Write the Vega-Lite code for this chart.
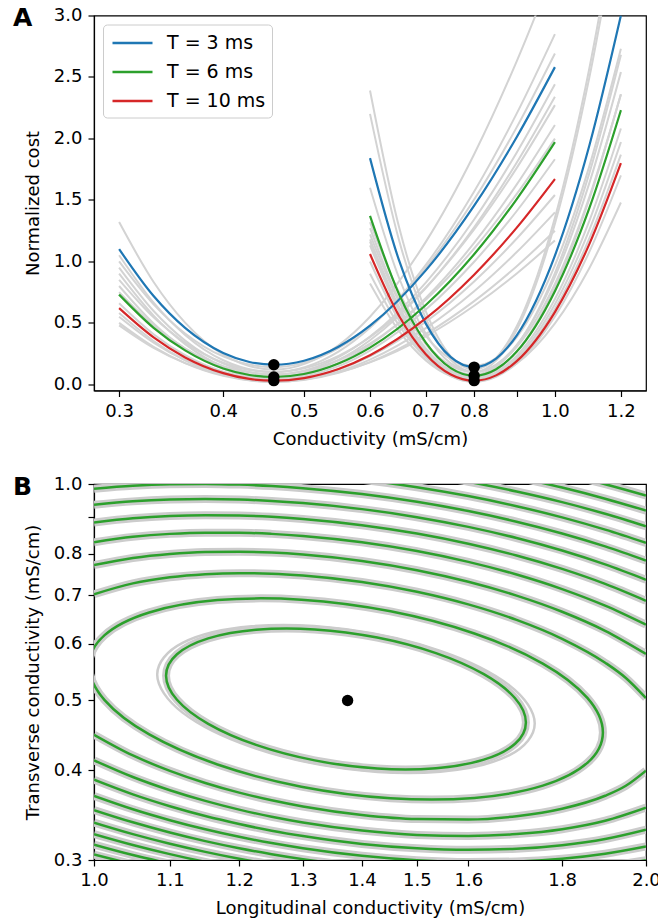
{
"$schema": "https://vega.github.io/schema/vega-lite/v6.json",
"background": "white",
"padding": {"left": 12, "top": 4.5, "right": 0, "bottom": 4},
"spacing": 24.5,
"config": {
 "font": "DejaVu Sans",
 "view": {"stroke": "black", "strokeWidth": 1.2},
 "axis": {"labelFont": "DejaVu Sans", "titleFont": "DejaVu Sans", "labelFontSize": 18, "titleFontSize": 18, "titleFontWeight": "normal", "labelColor": "black", "titleColor": "black", "domainColor": "black", "tickColor": "black", "tickSize": 6, "tickWidth": 1.2, "domainWidth": 1.2, "grid": false, "labelFlush": false, "labelOverlap": false},
 "axisX": {"labelPadding": 5.5, "titlePadding": 10},
 "axisY": {"labelPadding": 6, "titlePadding": 11},
 "legend": {"orient": "top-left", "offset": 9, "symbolType": "M-0.818,0H2.818", "symbolSize": 484, "symbolStrokeWidth": 2.5, "labelFontSize": 19, "labelFont": "DejaVu Sans", "labelColor": "black", "fillColor": "white", "strokeColor": "#cccccc", "padding": 6, "cornerRadius": 4, "rowPadding": 6, "labelOffset": 33}
},
"datasets": {
"greyA": [
{"s":"L1","x":0.3,"y":1.32},{"s":"L1","x":0.33,"y":0.833},{"s":"L1","x":0.36,"y":0.502},{"s":"L1","x":0.4,"y":0.241},{"s":"L1","x":0.46,"y":0.12},{"s":"L1","x":0.55,"y":0.318},{"s":"L1","x":0.6,"y":0.55},{"s":"L1","x":0.7,"y":1.159},{"s":"L1","x":0.8,"y":1.872},{"s":"L1","x":0.9,"y":2.629},{"s":"L1","x":1.0,"y":3.399},
{"s":"L2","x":0.3,"y":1.05},{"s":"L2","x":0.33,"y":0.664},{"s":"L2","x":0.36,"y":0.402},{"s":"L2","x":0.4,"y":0.196},{"s":"L2","x":0.46,"y":0.1},{"s":"L2","x":0.55,"y":0.266},{"s":"L2","x":0.6,"y":0.46},{"s":"L2","x":0.7,"y":0.971},{"s":"L2","x":0.8,"y":1.569},{"s":"L2","x":0.9,"y":2.204},{"s":"L2","x":1.0,"y":2.849},
{"s":"L3","x":0.3,"y":1.0},{"s":"L3","x":0.33,"y":0.651},{"s":"L3","x":0.36,"y":0.414},{"s":"L3","x":0.4,"y":0.227},{"s":"L3","x":0.46,"y":0.14},{"s":"L3","x":0.55,"y":0.294},{"s":"L3","x":0.6,"y":0.474},{"s":"L3","x":0.7,"y":0.948},{"s":"L3","x":0.8,"y":1.503},{"s":"L3","x":0.9,"y":2.092},{"s":"L3","x":1.0,"y":2.691},
{"s":"L4","x":0.3,"y":0.95},{"s":"L4","x":0.33,"y":0.597},{"s":"L4","x":0.36,"y":0.357},{"s":"L4","x":0.4,"y":0.168},{"s":"L4","x":0.46,"y":0.08},{"s":"L4","x":0.55,"y":0.222},{"s":"L4","x":0.6,"y":0.389},{"s":"L4","x":0.7,"y":0.828},{"s":"L4","x":0.8,"y":1.341},{"s":"L4","x":0.9,"y":1.886},{"s":"L4","x":1.0,"y":2.44},
{"s":"L5","x":0.3,"y":0.9},{"s":"L5","x":0.33,"y":0.559},{"s":"L5","x":0.36,"y":0.327},{"s":"L5","x":0.4,"y":0.145},{"s":"L5","x":0.46,"y":0.06},{"s":"L5","x":0.55,"y":0.198},{"s":"L5","x":0.6,"y":0.359},{"s":"L5","x":0.7,"y":0.783},{"s":"L5","x":0.8,"y":1.278},{"s":"L5","x":0.9,"y":1.805},{"s":"L5","x":1.0,"y":2.34},
{"s":"L6","x":0.3,"y":0.85},{"s":"L6","x":0.33,"y":0.545},{"s":"L6","x":0.36,"y":0.339},{"s":"L6","x":0.4,"y":0.176},{"s":"L6","x":0.46,"y":0.1},{"s":"L6","x":0.55,"y":0.231},{"s":"L6","x":0.6,"y":0.384},{"s":"L6","x":0.7,"y":0.788},{"s":"L6","x":0.8,"y":1.26},{"s":"L6","x":0.9,"y":1.761},{"s":"L6","x":1.0,"y":2.271},
{"s":"L7","x":0.3,"y":0.8},{"s":"L7","x":0.33,"y":0.495},{"s":"L7","x":0.36,"y":0.289},{"s":"L7","x":0.4,"y":0.126},{"s":"L7","x":0.46,"y":0.05},{"s":"L7","x":0.55,"y":0.174},{"s":"L7","x":0.6,"y":0.32},{"s":"L7","x":0.7,"y":0.703},{"s":"L7","x":0.8,"y":1.15},{"s":"L7","x":0.9,"y":1.626},{"s":"L7","x":1.0,"y":2.109},
{"s":"L8","x":0.3,"y":0.66},{"s":"L8","x":0.33,"y":0.408},{"s":"L8","x":0.36,"y":0.237},{"s":"L8","x":0.4,"y":0.103},{"s":"L8","x":0.46,"y":0.04},{"s":"L8","x":0.55,"y":0.148},{"s":"L8","x":0.6,"y":0.275},{"s":"L8","x":0.7,"y":0.608},{"s":"L8","x":0.8,"y":0.997},{"s":"L8","x":0.9,"y":1.41},{"s":"L8","x":1.0,"y":1.831},
{"s":"L9","x":0.3,"y":0.55},{"s":"L9","x":0.33,"y":0.339},{"s":"L9","x":0.36,"y":0.195},{"s":"L9","x":0.4,"y":0.083},{"s":"L9","x":0.46,"y":0.03},{"s":"L9","x":0.55,"y":0.121},{"s":"L9","x":0.6,"y":0.228},{"s":"L9","x":0.7,"y":0.509},{"s":"L9","x":0.8,"y":0.837},{"s":"L9","x":0.9,"y":1.186},{"s":"L9","x":1.0,"y":1.54},
{"s":"L10","x":0.3,"y":0.5},{"s":"L10","x":0.33,"y":0.305},{"s":"L10","x":0.36,"y":0.173},{"s":"L10","x":0.4,"y":0.069},{"s":"L10","x":0.46,"y":0.02},{"s":"L10","x":0.55,"y":0.103},{"s":"L10","x":0.6,"y":0.201},{"s":"L10","x":0.7,"y":0.457},{"s":"L10","x":0.8,"y":0.757},{"s":"L10","x":0.9,"y":1.076},{"s":"L10","x":1.0,"y":1.399},
{"s":"L11","x":0.3,"y":0.48},{"s":"L11","x":0.33,"y":0.297},{"s":"L11","x":0.36,"y":0.173},{"s":"L11","x":0.4,"y":0.076},{"s":"L11","x":0.46,"y":0.03},{"s":"L11","x":0.55,"y":0.099},{"s":"L11","x":0.6,"y":0.179},{"s":"L11","x":0.7,"y":0.391},{"s":"L11","x":0.8,"y":0.639},{"s":"L11","x":0.9,"y":0.902},{"s":"L11","x":1.0,"y":1.17},
{"s":"L12","x":0.3,"y":0.75},{"s":"L12","x":0.33,"y":0.478},{"s":"L12","x":0.36,"y":0.293},{"s":"L12","x":0.4,"y":0.148},{"s":"L12","x":0.46,"y":0.08},{"s":"L12","x":0.55,"y":0.196},{"s":"L12","x":0.6,"y":0.331},{"s":"L12","x":0.7,"y":0.688},{"s":"L12","x":0.8,"y":1.105},{"s":"L12","x":0.9,"y":1.549},{"s":"L12","x":1.0,"y":1.999},
{"s":"L13","x":0.3,"y":0.58},{"s":"L13","x":0.33,"y":0.353},{"s":"L13","x":0.36,"y":0.198},{"s":"L13","x":0.4,"y":0.077},{"s":"L13","x":0.46,"y":0.02},{"s":"L13","x":0.55,"y":0.094},{"s":"L13","x":0.6,"y":0.181},{"s":"L13","x":0.7,"y":0.41},{"s":"L13","x":0.8,"y":0.677},{"s":"L13","x":0.9,"y":0.961},{"s":"L13","x":1.0,"y":1.249},
{"s":"R1","x":0.6,"y":2.39},{"s":"R1","x":0.65,"y":1.281},{"s":"R1","x":0.7,"y":0.593},{"s":"R1","x":0.75,"y":0.228},{"s":"R1","x":0.8,"y":0.12},{"s":"R1","x":0.85,"y":0.215},{"s":"R1","x":0.9,"y":0.472},{"s":"R1","x":1.0,"y":1.354},{"s":"R1","x":1.1,"y":2.573},{"s":"R1","x":1.2,"y":4.01},
{"s":"R2","x":0.6,"y":2.2},{"s":"R2","x":0.65,"y":1.174},{"s":"R2","x":0.7,"y":0.537},{"s":"R2","x":0.75,"y":0.2},{"s":"R2","x":0.8,"y":0.1},{"s":"R2","x":0.85,"y":0.193},{"s":"R2","x":0.9,"y":0.444},{"s":"R2","x":1.0,"y":1.306},{"s":"R2","x":1.1,"y":2.499},{"s":"R2","x":1.2,"y":3.904},
{"s":"R3","x":0.6,"y":1.32},{"s":"R3","x":0.65,"y":0.749},{"s":"R3","x":0.7,"y":0.394},{"s":"R3","x":0.75,"y":0.206},{"s":"R3","x":0.8,"y":0.15},{"s":"R3","x":0.85,"y":0.213},{"s":"R3","x":0.9,"y":0.384},{"s":"R3","x":1.0,"y":0.968},{"s":"R3","x":1.1,"y":1.777},{"s":"R3","x":1.2,"y":2.73},
{"s":"R4","x":0.6,"y":1.27},{"s":"R4","x":0.65,"y":0.689},{"s":"R4","x":0.7,"y":0.328},{"s":"R4","x":0.75,"y":0.137},{"s":"R4","x":0.8,"y":0.08},{"s":"R4","x":0.85,"y":0.144},{"s":"R4","x":0.9,"y":0.315},{"s":"R4","x":1.0,"y":0.904},{"s":"R4","x":1.1,"y":1.72},{"s":"R4","x":1.2,"y":2.68},
{"s":"R5","x":0.6,"y":1.22},{"s":"R5","x":0.65,"y":0.673},{"s":"R5","x":0.7,"y":0.333},{"s":"R5","x":0.75,"y":0.153},{"s":"R5","x":0.8,"y":0.1},{"s":"R5","x":0.85,"y":0.16},{"s":"R5","x":0.9,"y":0.321},{"s":"R5","x":1.0,"y":0.874},{"s":"R5","x":1.1,"y":1.639},{"s":"R5","x":1.2,"y":2.54},
{"s":"R6","x":0.6,"y":1.18},{"s":"R6","x":0.65,"y":0.633},{"s":"R6","x":0.7,"y":0.293},{"s":"R6","x":0.75,"y":0.113},{"s":"R6","x":0.8,"y":0.06},{"s":"R6","x":0.85,"y":0.116},{"s":"R6","x":0.9,"y":0.268},{"s":"R6","x":1.0,"y":0.789},{"s":"R6","x":1.1,"y":1.51},{"s":"R6","x":1.2,"y":2.359},
{"s":"R7","x":0.6,"y":1.16},{"s":"R7","x":0.65,"y":0.618},{"s":"R7","x":0.7,"y":0.281},{"s":"R7","x":0.75,"y":0.103},{"s":"R7","x":0.8,"y":0.05},{"s":"R7","x":0.85,"y":0.1},{"s":"R7","x":0.9,"y":0.234},{"s":"R7","x":1.0,"y":0.694},{"s":"R7","x":1.1,"y":1.331},{"s":"R7","x":1.2,"y":2.081},
{"s":"R8","x":0.6,"y":1.13},{"s":"R8","x":0.65,"y":0.598},{"s":"R8","x":0.7,"y":0.267},{"s":"R8","x":0.75,"y":0.092},{"s":"R8","x":0.8,"y":0.04},{"s":"R8","x":0.85,"y":0.087},{"s":"R8","x":0.9,"y":0.215},{"s":"R8","x":1.0,"y":0.652},{"s":"R8","x":1.1,"y":1.258},{"s":"R8","x":1.2,"y":1.971},
{"s":"R9","x":0.6,"y":0.821},{"s":"R9","x":0.65,"y":0.435},{"s":"R9","x":0.7,"y":0.195},{"s":"R9","x":0.75,"y":0.068},{"s":"R9","x":0.8,"y":0.03},{"s":"R9","x":0.85,"y":0.075},{"s":"R9","x":0.9,"y":0.197},{"s":"R9","x":1.0,"y":0.613},{"s":"R9","x":1.1,"y":1.19},{"s":"R9","x":1.2,"y":1.869},
{"s":"R10","x":0.6,"y":0.999},{"s":"R10","x":0.65,"y":0.521},{"s":"R10","x":0.7,"y":0.224},{"s":"R10","x":0.75,"y":0.067},{"s":"R10","x":0.8,"y":0.02},{"s":"R10","x":0.85,"y":0.061},{"s":"R10","x":0.9,"y":0.172},{"s":"R10","x":1.0,"y":0.552},{"s":"R10","x":1.1,"y":1.079},{"s":"R10","x":1.2,"y":1.699},
{"s":"R11","x":0.6,"y":0.9},{"s":"R11","x":0.65,"y":0.48},{"s":"R11","x":0.7,"y":0.219},{"s":"R11","x":0.75,"y":0.081},{"s":"R11","x":0.8,"y":0.04},{"s":"R11","x":0.85,"y":0.075},{"s":"R11","x":0.9,"y":0.17},{"s":"R11","x":1.0,"y":0.496},{"s":"R11","x":1.1,"y":0.947},{"s":"R11","x":1.2,"y":1.479},
{"s":"R12","x":0.6,"y":1.599},{"s":"R12","x":0.65,"y":0.867},{"s":"R12","x":0.7,"y":0.412},{"s":"R12","x":0.75,"y":0.171},{"s":"R12","x":0.8,"y":0.1},{"s":"R12","x":0.85,"y":0.155},{"s":"R12","x":0.9,"y":0.305},{"s":"R12","x":1.0,"y":0.817},{"s":"R12","x":1.1,"y":1.525},{"s":"R12","x":1.2,"y":2.359}
],
"colA": [
{"T":"T = 3 ms","f":"L","x":0.3,"y":1.1},{"T":"T = 3 ms","f":"L","x":0.33,"y":0.718},{"T":"T = 3 ms","f":"L","x":0.36,"y":0.459},{"T":"T = 3 ms","f":"L","x":0.4,"y":0.255},{"T":"T = 3 ms","f":"L","x":0.43,"y":0.182},{"T":"T = 3 ms","f":"L","x":0.46,"y":0.16},{"T":"T = 3 ms","f":"L","x":0.5,"y":0.192},{"T":"T = 3 ms","f":"L","x":0.55,"y":0.306},{"T":"T = 3 ms","f":"L","x":0.6,"y":0.477},{"T":"T = 3 ms","f":"L","x":0.7,"y":0.927},{"T":"T = 3 ms","f":"L","x":0.8,"y":1.453},{"T":"T = 3 ms","f":"L","x":0.9,"y":2.012},{"T":"T = 3 ms","f":"L","x":1.0,"y":2.58},
{"T":"T = 3 ms","f":"R","x":0.6,"y":1.84},{"T":"T = 3 ms","f":"R","x":0.65,"y":1.01},{"T":"T = 3 ms","f":"R","x":0.7,"y":0.494},{"T":"T = 3 ms","f":"R","x":0.75,"y":0.221},{"T":"T = 3 ms","f":"R","x":0.8,"y":0.14},{"T":"T = 3 ms","f":"R","x":0.85,"y":0.21},{"T":"T = 3 ms","f":"R","x":0.9,"y":0.399},{"T":"T = 3 ms","f":"R","x":1.0,"y":1.047},{"T":"T = 3 ms","f":"R","x":1.1,"y":1.944},{"T":"T = 3 ms","f":"R","x":1.2,"y":3.0},
{"T":"T = 6 ms","f":"L","x":0.3,"y":0.73},{"T":"T = 6 ms","f":"L","x":0.33,"y":0.46},{"T":"T = 6 ms","f":"L","x":0.36,"y":0.276},{"T":"T = 6 ms","f":"L","x":0.4,"y":0.129},{"T":"T = 6 ms","f":"L","x":0.43,"y":0.076},{"T":"T = 6 ms","f":"L","x":0.46,"y":0.06},{"T":"T = 6 ms","f":"L","x":0.5,"y":0.084},{"T":"T = 6 ms","f":"L","x":0.55,"y":0.169},{"T":"T = 6 ms","f":"L","x":0.6,"y":0.299},{"T":"T = 6 ms","f":"L","x":0.7,"y":0.645},{"T":"T = 6 ms","f":"L","x":0.8,"y":1.058},{"T":"T = 6 ms","f":"L","x":0.9,"y":1.507},{"T":"T = 6 ms","f":"L","x":1.0,"y":1.97},
{"T":"T = 6 ms","f":"R","x":0.6,"y":1.37},{"T":"T = 6 ms","f":"R","x":0.65,"y":0.734},{"T":"T = 6 ms","f":"R","x":0.7,"y":0.34},{"T":"T = 6 ms","f":"R","x":0.75,"y":0.132},{"T":"T = 6 ms","f":"R","x":0.8,"y":0.07},{"T":"T = 6 ms","f":"R","x":0.85,"y":0.123},{"T":"T = 6 ms","f":"R","x":0.9,"y":0.267},{"T":"T = 6 ms","f":"R","x":1.0,"y":0.758},{"T":"T = 6 ms","f":"R","x":1.1,"y":1.435},{"T":"T = 6 ms","f":"R","x":1.2,"y":2.23},
{"T":"T = 10 ms","f":"L","x":0.3,"y":0.62},{"T":"T = 10 ms","f":"L","x":0.33,"y":0.382},{"T":"T = 10 ms","f":"L","x":0.36,"y":0.219},{"T":"T = 10 ms","f":"L","x":0.4,"y":0.091},{"T":"T = 10 ms","f":"L","x":0.43,"y":0.044},{"T":"T = 10 ms","f":"L","x":0.46,"y":0.03},{"T":"T = 10 ms","f":"L","x":0.5,"y":0.051},{"T":"T = 10 ms","f":"L","x":0.55,"y":0.125},{"T":"T = 10 ms","f":"L","x":0.6,"y":0.237},{"T":"T = 10 ms","f":"L","x":0.7,"y":0.536},{"T":"T = 10 ms","f":"L","x":0.8,"y":0.892},{"T":"T = 10 ms","f":"L","x":0.9,"y":1.275},{"T":"T = 10 ms","f":"L","x":1.0,"y":1.67},
{"T":"T = 10 ms","f":"R","x":0.6,"y":1.06},{"T":"T = 10 ms","f":"R","x":0.65,"y":0.558},{"T":"T = 10 ms","f":"R","x":0.7,"y":0.245},{"T":"T = 10 ms","f":"R","x":0.75,"y":0.08},{"T":"T = 10 ms","f":"R","x":0.8,"y":0.03},{"T":"T = 10 ms","f":"R","x":0.85,"y":0.073},{"T":"T = 10 ms","f":"R","x":0.9,"y":0.189},{"T":"T = 10 ms","f":"R","x":1.0,"y":0.588},{"T":"T = 10 ms","f":"R","x":1.1,"y":1.143},{"T":"T = 10 ms","f":"R","x":1.2,"y":1.8}
],
"dotsA": [
{"x":0.46,"y":0.16},{"x":0.46,"y":0.06},{"x":0.46,"y":0.03},{"x":0.8,"y":0.14},{"x":0.8,"y":0.07},{"x":0.8,"y":0.03}
],
"greyB": [
{"c":"G1b","i":1,"x":1.7392,"y":0.4644},{"c":"G1b","i":2,"x":1.6849,"y":0.5247},{"c":"G1b","i":3,"x":1.5448,"y":0.5861},{"c":"G1b","i":4,"x":1.3722,"y":0.628},{"c":"G1b","i":5,"x":1.2189,"y":0.634},{"c":"G1b","i":6,"x":1.1176,"y":0.6012},{"c":"G1b","i":7,"x":1.0826,"y":0.5434},{"c":"G1b","i":8,"x":1.1176,"y":0.4809},{"c":"G1b","i":9,"x":1.2189,"y":0.4306},{"c":"G1b","i":10,"x":1.3722,"y":0.4018},{"c":"G1b","i":11,"x":1.5448,"y":0.3981},{"c":"G1b","i":12,"x":1.6849,"y":0.4197}
],
"closedB": [
{"c":"G1","i":1,"x":1.72,"y":0.4661},{"c":"G1","i":2,"x":1.6968,"y":0.5036},{"c":"G1","i":3,"x":1.6315,"y":0.5439},{"c":"G1","i":4,"x":1.5363,"y":0.5819},{"c":"G1","i":5,"x":1.4271,"y":0.6116},{"c":"G1","i":6,"x":1.3194,"y":0.6277},{"c":"G1","i":7,"x":1.2257,"y":0.6271},{"c":"G1","i":8,"x":1.1542,"y":0.61},{"c":"G1","i":9,"x":1.1098,"y":0.5797},{"c":"G1","i":10,"x":1.0947,"y":0.5414},{"c":"G1","i":11,"x":1.1098,"y":0.5012},{"c":"G1","i":12,"x":1.1542,"y":0.464},{"c":"G1","i":13,"x":1.2257,"y":0.4337},{"c":"G1","i":14,"x":1.3194,"y":0.4127},{"c":"G1","i":15,"x":1.4271,"y":0.4021},{"c":"G1","i":16,"x":1.5363,"y":0.4025},{"c":"G1","i":17,"x":1.6315,"y":0.4137},{"c":"G1","i":18,"x":1.6968,"y":0.4353},
{"c":"G2","i":1,"x":1.8946,"y":0.4514},{"c":"G2","i":2,"x":1.858,"y":0.5041},{"c":"G2","i":3,"x":1.7569,"y":0.5627},{"c":"G2","i":4,"x":1.6123,"y":0.6196},{"c":"G2","i":5,"x":1.4512,"y":0.6652},{"c":"G2","i":6,"x":1.2974,"y":0.6904},{"c":"G2","i":7,"x":1.1677,"y":0.6895},{"c":"G2","i":8,"x":1.0718,"y":0.6628},{"c":"G2","i":9,"x":1.0134,"y":0.6163},{"c":"G2","i":10,"x":0.9939,"y":0.5591},{"c":"G2","i":11,"x":1.0134,"y":0.5006},{"c":"G2","i":12,"x":1.0718,"y":0.4485},{"c":"G2","i":13,"x":1.1677,"y":0.4073},{"c":"G2","i":14,"x":1.2974,"y":0.3794},{"c":"G2","i":15,"x":1.4512,"y":0.3656},{"c":"G2","i":16,"x":1.6123,"y":0.366},{"c":"G2","i":17,"x":1.7569,"y":0.3807},{"c":"G2","i":18,"x":1.858,"y":0.4095}
],
"openB": [
{"c":"G3u","x":1.0,"y":0.7025},{"c":"G3u","x":1.05,"y":0.7274},{"c":"G3u","x":1.1,"y":0.7417},{"c":"G3u","x":1.15,"y":0.7492},{"c":"G3u","x":1.2,"y":0.7517},{"c":"G3u","x":1.25,"y":0.7505},{"c":"G3u","x":1.3,"y":0.7463},{"c":"G3u","x":1.4,"y":0.7308},{"c":"G3u","x":1.5,"y":0.7083},{"c":"G3u","x":1.6,"y":0.6802},{"c":"G3u","x":1.7,"y":0.6472},{"c":"G3u","x":1.8,"y":0.6092},{"c":"G3u","x":1.9,"y":0.5643},{"c":"G3u","x":1.95,"y":0.5374},{"c":"G3u","x":2.0,"y":0.5038},
{"c":"G3l","x":1.0,"y":0.4481},{"c":"G3l","x":1.05,"y":0.4193},{"c":"G3l","x":1.1,"y":0.3991},{"c":"G3l","x":1.15,"y":0.3839},{"c":"G3l","x":1.2,"y":0.3722},{"c":"G3l","x":1.25,"y":0.3632},{"c":"G3l","x":1.3,"y":0.3561},{"c":"G3l","x":1.4,"y":0.3466},{"c":"G3l","x":1.5,"y":0.3421},{"c":"G3l","x":1.6,"y":0.3416},{"c":"G3l","x":1.7,"y":0.3452},{"c":"G3l","x":1.8,"y":0.3535},{"c":"G3l","x":1.9,"y":0.3685},{"c":"G3l","x":1.95,"y":0.3805},{"c":"G3l","x":2.0,"y":0.3994},
{"c":"G4u","x":1.0,"y":0.7712},{"c":"G4u","x":1.05,"y":0.789},{"c":"G4u","x":1.1,"y":0.7993},{"c":"G4u","x":1.15,"y":0.8043},{"c":"G4u","x":1.2,"y":0.8052},{"c":"G4u","x":1.25,"y":0.8028},{"c":"G4u","x":1.3,"y":0.7977},{"c":"G4u","x":1.4,"y":0.7814},{"c":"G4u","x":1.5,"y":0.7587},{"c":"G4u","x":1.6,"y":0.7311},{"c":"G4u","x":1.7,"y":0.6995},{"c":"G4u","x":1.8,"y":0.6643},{"c":"G4u","x":1.9,"y":0.625},{"c":"G4u","x":2.0,"y":0.5803},
{"c":"G4l","x":1.0,"y":0.4128},{"c":"G4l","x":1.05,"y":0.3913},{"c":"G4l","x":1.1,"y":0.3751},{"c":"G4l","x":1.15,"y":0.3625},{"c":"G4l","x":1.2,"y":0.3525},{"c":"G4l","x":1.25,"y":0.3446},{"c":"G4l","x":1.3,"y":0.3383},{"c":"G4l","x":1.4,"y":0.3297},{"c":"G4l","x":1.5,"y":0.3251},{"c":"G4l","x":1.6,"y":0.324},{"c":"G4l","x":1.7,"y":0.326},{"c":"G4l","x":1.8,"y":0.3311},{"c":"G4l","x":1.9,"y":0.3402},{"c":"G4l","x":2.0,"y":0.3548},
{"c":"G5u","x":1.0,"y":0.83},{"c":"G5u","x":1.05,"y":0.8443},{"c":"G5u","x":1.1,"y":0.8524},{"c":"G5u","x":1.15,"y":0.8558},{"c":"G5u","x":1.2,"y":0.8556},{"c":"G5u","x":1.25,"y":0.8524},{"c":"G5u","x":1.3,"y":0.8468},{"c":"G5u","x":1.4,"y":0.8297},{"c":"G5u","x":1.5,"y":0.8067},{"c":"G5u","x":1.6,"y":0.7793},{"c":"G5u","x":1.7,"y":0.7484},{"c":"G5u","x":1.8,"y":0.7143},{"c":"G5u","x":1.9,"y":0.6773},{"c":"G5u","x":2.0,"y":0.6372},
{"c":"G5l","x":1.0,"y":0.3879},{"c":"G5l","x":1.05,"y":0.3701},{"c":"G5l","x":1.1,"y":0.3563},{"c":"G5l","x":1.15,"y":0.3453},{"c":"G5l","x":1.2,"y":0.3366},{"c":"G5l","x":1.25,"y":0.3295},{"c":"G5l","x":1.3,"y":0.3239},{"c":"G5l","x":1.4,"y":0.3158},{"c":"G5l","x":1.5,"y":0.3114},{"c":"G5l","x":1.6,"y":0.3099},{"c":"G5l","x":1.7,"y":0.311},{"c":"G5l","x":1.8,"y":0.3146},{"c":"G5l","x":1.9,"y":0.3209},{"c":"G5l","x":2.0,"y":0.3306},
{"c":"G6u","x":1.0,"y":0.8842},{"c":"G6u","x":1.05,"y":0.8961},{"c":"G6u","x":1.1,"y":0.9028},{"c":"G6u","x":1.15,"y":0.9051},{"c":"G6u","x":1.2,"y":0.9041},{"c":"G6u","x":1.25,"y":0.9004},{"c":"G6u","x":1.3,"y":0.8942},{"c":"G6u","x":1.4,"y":0.8765},{"c":"G6u","x":1.5,"y":0.8534},{"c":"G6u","x":1.6,"y":0.8259},{"c":"G6u","x":1.7,"y":0.7953},{"c":"G6u","x":1.8,"y":0.7619},{"c":"G6u","x":1.9,"y":0.7262},{"c":"G6u","x":2.0,"y":0.688},
{"c":"G6l","x":1.0,"y":0.3683},{"c":"G6l","x":1.05,"y":0.3529},{"c":"G6l","x":1.1,"y":0.3408},{"c":"G6l","x":1.15,"y":0.331},{"c":"G6l","x":1.2,"y":0.3231},{"c":"G6l","x":1.25,"y":0.3167},{"c":"G6l","x":1.3,"y":0.3115},{"c":"G6l","x":1.4,"y":0.3041},{"c":"G6l","x":1.5,"y":0.2998},{"c":"G6l","x":1.6,"y":0.2981},{"c":"G6l","x":1.7,"y":0.2986},{"c":"G6l","x":1.8,"y":0.3012},{"c":"G6l","x":1.9,"y":0.3061},{"c":"G6l","x":2.0,"y":0.3133},
{"c":"G7u","x":1.0,"y":0.9355},{"c":"G7u","x":1.05,"y":0.9459},{"c":"G7u","x":1.1,"y":0.9514},{"c":"G7u","x":1.15,"y":0.953},{"c":"G7u","x":1.2,"y":0.9514},{"c":"G7u","x":1.25,"y":0.9473},{"c":"G7u","x":1.3,"y":0.9408},{"c":"G7u","x":1.4,"y":0.9227},{"c":"G7u","x":1.5,"y":0.8992},{"c":"G7u","x":1.6,"y":0.8717},{"c":"G7u","x":1.7,"y":0.8411},{"c":"G7u","x":1.8,"y":0.8081},{"c":"G7u","x":1.9,"y":0.773},{"c":"G7u","x":2.0,"y":0.736},
{"c":"G7l","x":1.0,"y":0.352},{"c":"G7l","x":1.05,"y":0.3385},{"c":"G7l","x":1.1,"y":0.3276},{"c":"G7l","x":1.15,"y":0.3187},{"c":"G7l","x":1.2,"y":0.3115},{"c":"G7l","x":1.25,"y":0.3056},{"c":"G7l","x":1.3,"y":0.3008},{"c":"G7l","x":1.4,"y":0.2938},{"c":"G7l","x":1.5,"y":0.2888},{"c":"G7l","x":1.6,"y":0.2879},{"c":"G7l","x":1.7,"y":0.2881},{"c":"G7l","x":1.8,"y":0.2901},{"c":"G7l","x":1.9,"y":0.294},{"c":"G7l","x":2.0,"y":0.2997},
{"c":"G8u","x":1.0,"y":0.985},{"c":"G8u","x":1.05,"y":0.9944},{"c":"G8u","x":1.1,"y":0.9991},{"c":"G8u","x":1.15,"y":1.0002},{"c":"G8u","x":1.2,"y":0.998},{"c":"G8u","x":1.25,"y":0.9935},{"c":"G8u","x":1.3,"y":0.9868},{"c":"G8u","x":1.4,"y":0.9682},{"c":"G8u","x":1.5,"y":0.9445},{"c":"G8u","x":1.6,"y":0.9169},{"c":"G8u","x":1.7,"y":0.8863},{"c":"G8u","x":1.8,"y":0.8535},{"c":"G8u","x":1.9,"y":0.8188},{"c":"G8u","x":2.0,"y":0.7824},
{"c":"G8l","x":1.0,"y":0.3381},{"c":"G8l","x":1.05,"y":0.3259},{"c":"G8l","x":1.1,"y":0.316},{"c":"G8l","x":1.15,"y":0.3079},{"c":"G8l","x":1.2,"y":0.3012},{"c":"G8l","x":1.25,"y":0.2958},{"c":"G8l","x":1.3,"y":0.2913},
{"c":"G9u","x":1.25,"y":1.0395},{"c":"G9u","x":1.3,"y":1.0325},{"c":"G9u","x":1.4,"y":1.0136},{"c":"G9u","x":1.5,"y":0.9897},{"c":"G9u","x":1.6,"y":0.962},{"c":"G9u","x":1.7,"y":0.9314},{"c":"G9u","x":1.8,"y":0.8986},{"c":"G9u","x":1.9,"y":0.864},{"c":"G9u","x":2.0,"y":0.8281},
{"c":"G9l","x":1.0,"y":0.3259},{"c":"G9l","x":1.05,"y":0.3148},{"c":"G9l","x":1.1,"y":0.3057},{"c":"G9l","x":1.15,"y":0.2982},{"c":"G9l","x":1.2,"y":0.2921},
{"c":"G10u","x":1.4,"y":1.059},{"c":"G10u","x":1.5,"y":1.0348},{"c":"G10u","x":1.6,"y":1.007},{"c":"G10u","x":1.7,"y":0.9763},{"c":"G10u","x":1.8,"y":0.9436},{"c":"G10u","x":1.9,"y":0.909},{"c":"G10u","x":2.0,"y":0.8733},
{"c":"G10l","x":1.0,"y":0.3151},{"c":"G10l","x":1.05,"y":0.3048},{"c":"G10l","x":1.1,"y":0.2965},
{"c":"G11u","x":1.5,"y":1.0802},{"c":"G11u","x":1.6,"y":1.0521},{"c":"G11u","x":1.7,"y":1.0214},{"c":"G11u","x":1.8,"y":0.9886},{"c":"G11u","x":1.9,"y":0.9541},{"c":"G11u","x":2.0,"y":0.9184},
{"c":"G11l","x":1.0,"y":0.3053},{"c":"G11l","x":1.05,"y":0.2959},
{"c":"G12u","x":1.6,"y":1.0977},{"c":"G12u","x":1.7,"y":1.0669},{"c":"G12u","x":1.8,"y":1.0339},{"c":"G12u","x":1.9,"y":0.9994},{"c":"G12u","x":2.0,"y":0.9637}
],
"dotB": [{"x":1.375,"y":0.5}]
},
"vconcat": [
{
 "width": 552, "height": 375,
 "title": {"text": "A", "anchor": "start", "frame": "group", "orient": "top", "fontSize": 25, "fontWeight": "bold", "font": "DejaVu Sans", "color": "black", "dx": -81, "dy": 24, "offset": 0},
 "encoding": {
  "x": {"field": "x", "type": "quantitative", "scale": {"type": "log", "domain": [0.2799, 1.2861], "nice": false}, "axis": {"title": "Conductivity (mS/cm)", "values": [0.3, 0.4, 0.5, 0.6, 0.7, 0.8, 0.9, 1.0, 1.2], "labelExpr": "datum.value > 0.85 && datum.value < 0.95 ? '' : format(datum.value, '.1f')"}},
  "y": {"field": "y", "type": "quantitative", "scale": {"domain": [-0.05, 3.0], "nice": false, "zero": false}, "axis": {"title": "Normalized cost", "values": [0, 0.5, 1, 1.5, 2, 2.5, 3], "format": ".1f"}}
 },
 "layer": [
  {"data": {"name": "greyA"}, "mark": {"type": "line", "interpolate": "monotone", "clip": true, "color": "#d3d3d3", "strokeWidth": 2}, "encoding": {"detail": {"field": "s", "type": "nominal"}}},
  {"data": {"name": "colA"}, "mark": {"type": "line", "interpolate": "monotone", "clip": true, "strokeWidth": 2.2}, "encoding": {"color": {"field": "T", "type": "nominal", "scale": {"domain": ["T = 3 ms", "T = 6 ms", "T = 10 ms"], "range": ["#1f77b4", "#2ca02c", "#d62728"]}, "legend": {"title": null}}, "detail": {"field": "f", "type": "nominal"}}},
  {"data": {"name": "dotsA"}, "mark": {"type": "point", "filled": true, "color": "black", "size": 130, "opacity": 1}}
 ]
},
{
 "width": 552, "height": 376,
 "title": {"text": "B", "anchor": "start", "frame": "group", "orient": "top", "fontSize": 25, "fontWeight": "bold", "font": "DejaVu Sans", "color": "black", "dx": -81, "dy": 25, "offset": 0},
 "encoding": {
  "x": {"field": "x", "type": "quantitative", "scale": {"type": "log", "domain": [1, 2], "nice": false}, "axis": {"title": "Longitudinal conductivity (mS/cm)", "values": [1, 1.1, 1.2, 1.3, 1.4, 1.5, 1.6, 1.8, 2], "format": ".1f"}},
  "y": {"field": "y", "type": "quantitative", "scale": {"type": "log", "domain": [0.3, 1], "nice": false}, "axis": {"title": "Transverse conductivity (mS/cm)", "values": [0.3, 0.4, 0.5, 0.6, 0.7, 0.8, 0.9, 1], "labelExpr": "datum.value > 0.85 && datum.value < 0.95 ? '' : format(datum.value, '.1f')"}}
 },
 "layer": [
  {"data": {"name": "greyB"}, "mark": {"type": "line", "interpolate": "cardinal-closed", "clip": true, "color": "#cccccc", "strokeWidth": 2.5}, "encoding": {"detail": {"field": "c", "type": "nominal"}, "order": {"field": "i", "type": "quantitative"}}},
  {"data": {"name": "closedB"}, "mark": {"type": "line", "interpolate": "cardinal-closed", "clip": true, "color": "#cccccc", "strokeWidth": 8}, "encoding": {"detail": {"field": "c", "type": "nominal"}, "order": {"field": "i", "type": "quantitative"}}},
  {"data": {"name": "openB"}, "mark": {"type": "line", "interpolate": "monotone", "clip": true, "color": "#cccccc", "strokeWidth": 8}, "encoding": {"detail": {"field": "c", "type": "nominal"}}},
  {"data": {"name": "closedB"}, "mark": {"type": "line", "interpolate": "cardinal-closed", "clip": true, "color": "#2ca02c", "strokeWidth": 2.5}, "encoding": {"detail": {"field": "c", "type": "nominal"}, "order": {"field": "i", "type": "quantitative"}}},
  {"data": {"name": "openB"}, "mark": {"type": "line", "interpolate": "monotone", "clip": true, "color": "#2ca02c", "strokeWidth": 2.5}, "encoding": {"detail": {"field": "c", "type": "nominal"}}},
  {"data": {"name": "dotB"}, "mark": {"type": "point", "filled": true, "color": "black", "size": 130, "opacity": 1}}
 ]
}
]
}
